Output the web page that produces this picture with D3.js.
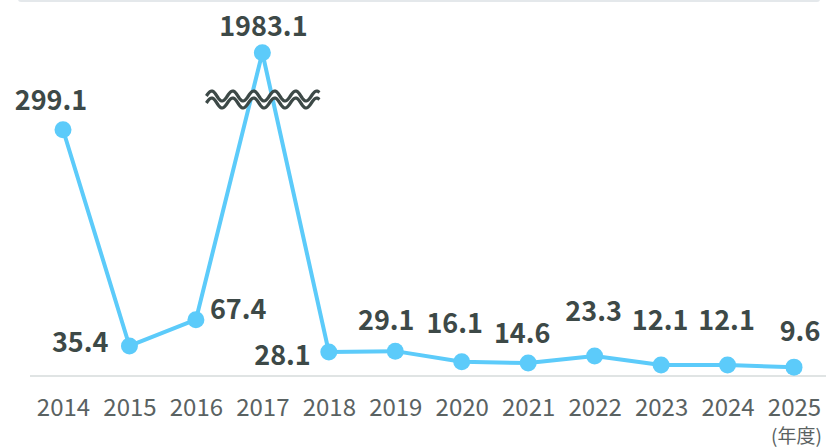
<!DOCTYPE html>
<html><head><meta charset="utf-8">
<script src="https://cdn.jsdelivr.net/npm/d3@7"></script>
<style>
html,body{margin:0;padding:0;background:#fff;overflow:hidden}
svg{display:block}
</style></head>
<body>
<svg id="chart" width="826" height="447"></svg>
<script>
// ---- data ----
const years = ["2014","2015","2016","2017","2018","2019","2020","2021","2022","2023","2024","2025"];
const values = [299.1, 35.4, 67.4, 1983.1, 28.1, 29.1, 16.1, 14.6, 23.3, 12.1, 12.1, 9.6];
const valueLabels = ["299.1","35.4","67.4","1983.1","28.1","29.1","16.1","14.6","23.3","12.1","12.1","9.6"];
const unitLabel = "(年度)";
// label placement relative to each point: [anchor, dx, dy]
const labelPlacement = [
  ["middle",-12,-20],["end",-21,6],["start",14,-1],["middle",1,-17],
  ["end",-18,13],["middle",-9,-21],["middle",-7,-29],["middle",-6,-20],
  ["middle",-1,-35],["middle",-1,-35],["middle",-1,-35],["middle",6,-26]
];

(function(){
const W = 826, H = 447;
const svg = d3.select("#chart");
const FONT = "'Noto Sans CJK JP','Noto Sans',sans-serif";

// top card edge
svg.append("rect").attr("x",18).attr("y",-3).attr("width",802).attr("height",5)
  .attr("rx",3).attr("fill","#e4e8eb");

const x = d3.scalePoint().domain(years).range([63, 794]);
// broken axis: piecewise linear scale (0..300 normal, 300..2000 compressed)
const y = d3.scaleLinear().domain([0, 300, 2000]).range([375, 129, 52]);

// baseline axis
svg.append("line").attr("x1",30).attr("x2",W).attr("y1",376).attr("y2",376)
  .attr("stroke","#e0e4e4").attr("stroke-width",2);
const xAxis = d3.axisBottom(x).tickSize(0).tickPadding(0);
const ag = svg.append("g").attr("transform","translate(0,416)").call(xAxis);
ag.select(".domain").remove();
ag.selectAll("text").attr("dy",0).attr("font-family",FONT).attr("font-size",24)
  .attr("fill","#5a6262").attr("font-weight",400);

svg.append("text").attr("x",771).attr("y",443).text(unitLabel)
  .attr("font-family",FONT).attr("font-size",19).attr("fill","#5a6262");

// line
const blue = "#5ccbfa";
const line = d3.line().x((d,i)=>x(years[i])).y(d=>y(d));
svg.append("path").datum(values).attr("d",line).attr("fill","none")
  .attr("stroke",blue).attr("stroke-width",4).attr("stroke-linejoin","round");

// axis break symbol (decoration)
const bx0 = x("2017") - 56, bx1 = x("2017") + 57, bcy = y(300) - 33;
const period = 21, amp = 5, gap = 7;
const pts = d3.range(bx0, bx1 + 0.5, 1);
const wave = off => pts.map(px => [px, bcy + off - amp*Math.sin((px-bx0)/period*2*Math.PI)]);
const waveA = wave(0), waveB = wave(gap);
const band = waveA.concat(waveB.slice().reverse());
svg.append("path").attr("d", d3.line()(band) + "Z").attr("fill","#fff");
[waveA, waveB].forEach(w => svg.append("path").attr("d", d3.line()(w))
  .attr("fill","none").attr("stroke","#3d4947").attr("stroke-width",3.2));

// points
svg.selectAll("circle.pt").data(values).join("circle").attr("class","pt")
  .attr("cx",(d,i)=>x(years[i])).attr("cy",d=>y(d)).attr("r",8.5).attr("fill",blue);

// value labels
svg.selectAll("text.val").data(values).join("text").attr("class","val")
  .attr("x",(d,i)=>x(years[i]) + labelPlacement[i][1])
  .attr("y",(d,i)=>y(d) + labelPlacement[i][2])
  .attr("text-anchor",(d,i)=>labelPlacement[i][0])
  .attr("font-family",FONT).attr("font-size",27).attr("font-weight",700)
  .attr("fill","#3d4947")
  .text((d,i)=>valueLabels[i]);
})();
</script>
</body></html>
